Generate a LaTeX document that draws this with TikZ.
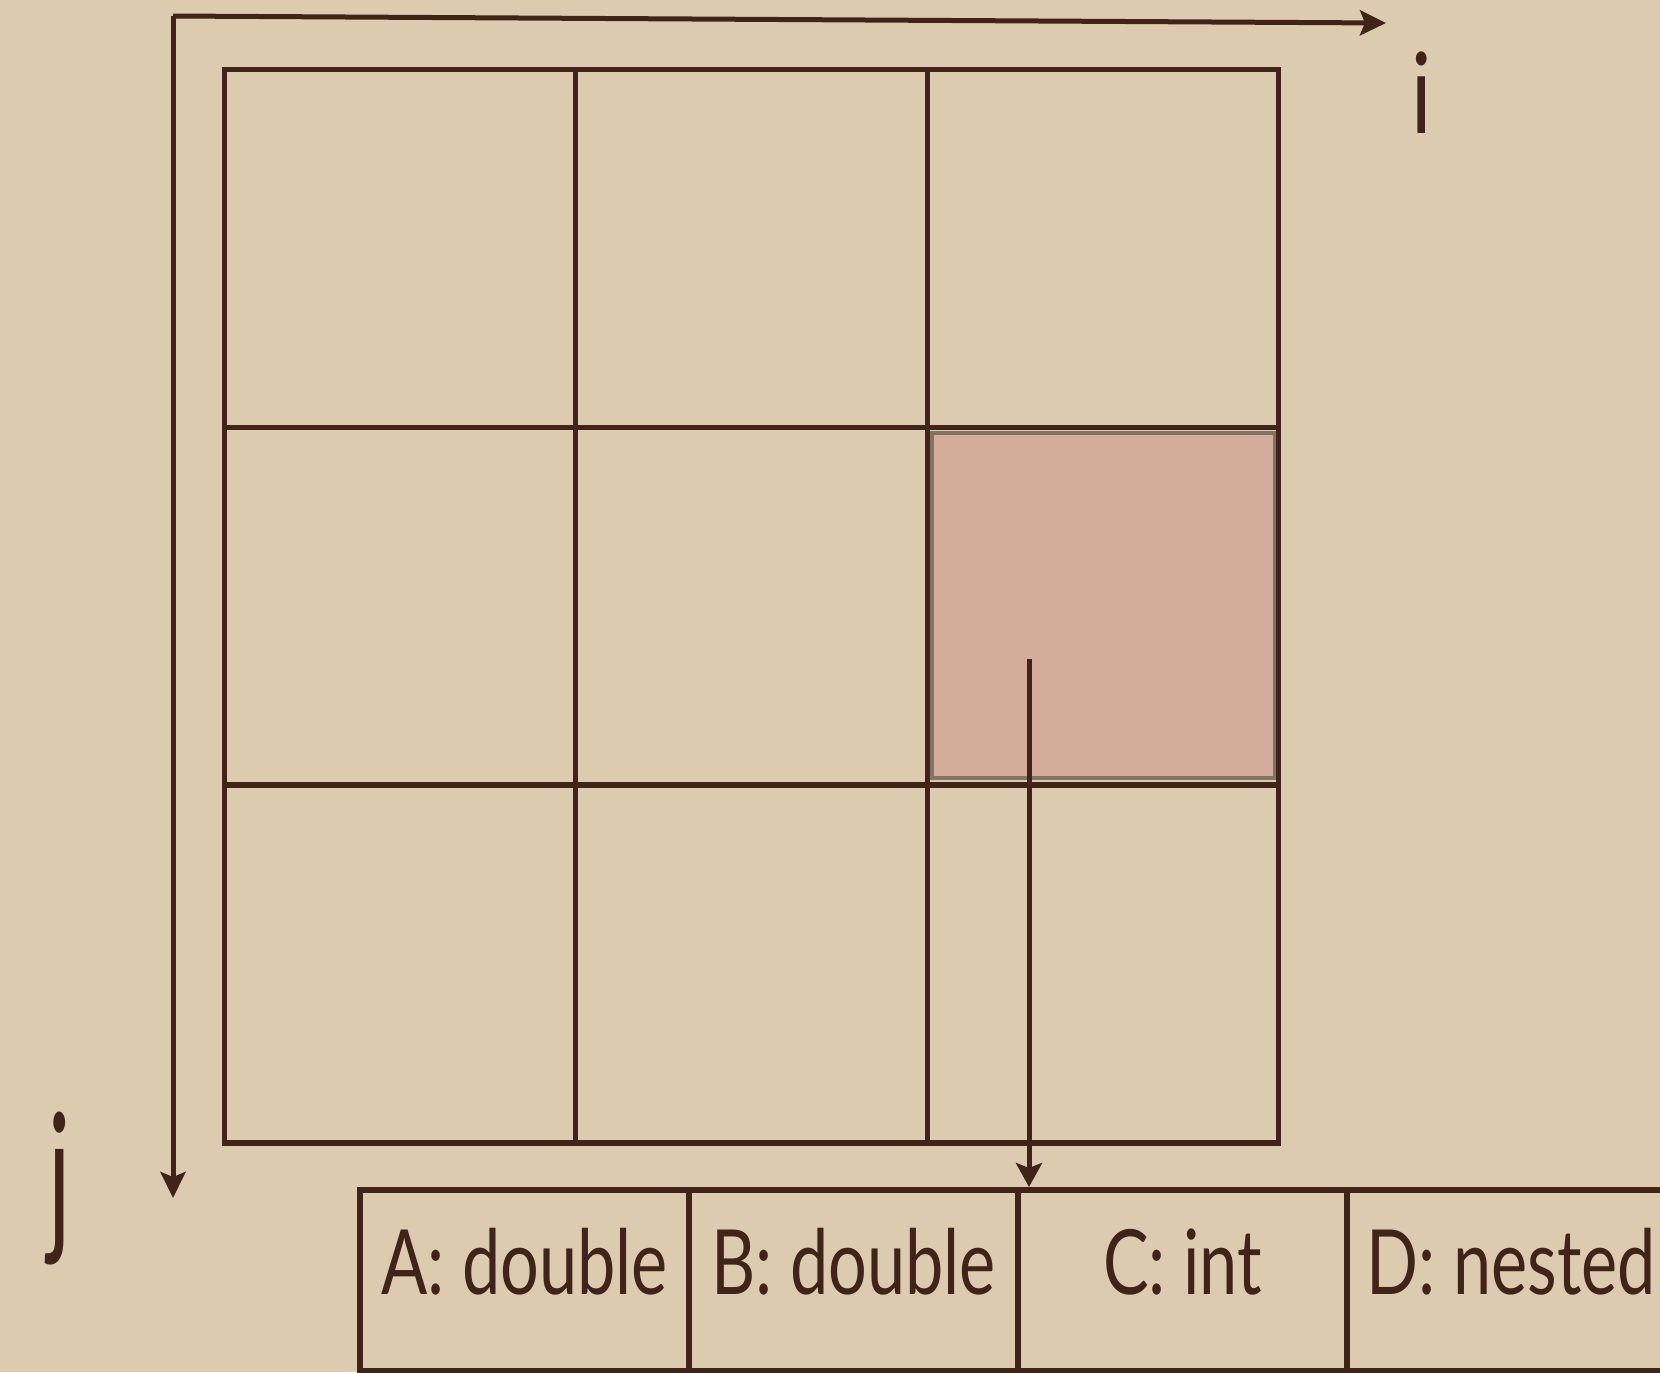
\documentclass[tikz,border=0pt]{standalone}
\usepackage{fontspec}
\usetikzlibrary{arrows.meta}
\newfontfamily\pap[FakeStretch=0.76]{Lato}
\definecolor{parch}{HTML}{DDCBAF}
\definecolor{ink}{HTML}{40241A}
\definecolor{rose}{HTML}{D3AD9A}
\definecolor{rosedge}{HTML}{807565}
\tikzset{
  axis/.style={draw=ink, line width=2.5pt, -{Stealth[length=13pt, width=12.5pt, inset=2.5pt]}},
  ptr/.style={draw=ink, line width=2.5pt, -{Stealth[length=12pt, width=13pt, inset=2.5pt]}, shorten >=1.5pt},
  gridcell/.style={draw=ink, line width=2.6pt, rectangle, inner sep=0pt, outer sep=0pt,
    minimum width=175.85pt, minimum height=179pt},
  hlcell/.style={draw=rosedge, fill=rose, line width=2pt, rectangle, inner sep=0pt,
    minimum width=171.5pt, minimum height=172.5pt},
  fieldcell/.style={draw=ink, line width=2.6pt, rectangle, inner sep=0pt, outer sep=0pt,
    minimum width=164.5pt, minimum height=90.5pt, text=ink,
    font=\pap\fontsize{45}{45}\selectfont, text height=40pt, text depth=26.5pt},
  axlbl/.style={text=ink, inner sep=0pt, font=\pap\fontsize{56}{56}\selectfont}
}
\begin{document}
\begin{tikzpicture}[x=0.5pt, y=-0.5pt]
\fill[parch] (0,0) rectangle (1660,1372);
\useasboundingbox (0,0) rectangle (1660,1372);
\clip (0,0) rectangle (1660,1372);

% highlighted cell background
\node[hlcell] (hl) at (1103.5,605.5) {};

% 3x3 grid
\node[gridcell] (c11) at (400,248.5) {};
\node[gridcell] (c12) at (751.5,248.5) {};
\node[gridcell] (c13) at (1103,248.5) {};
\node[gridcell] (c21) at (400,606.5) {};
\node[gridcell] (c22) at (751.5,606.5) {};
\node[gridcell] (c23) at (1103,606.5) {};
\node[gridcell] (c31) at (400,964) {};
\node[gridcell] (c32) at (751.5,964) {};
\node[gridcell] (c33) at (1103,964) {};

% axes
\coordinate (O) at (173,16);
\coordinate (iend) at (1386,23);
\coordinate (jend) at (173,1198);
\draw[axis] (O) -- (iend);
\draw[axis] (O) -- (jend);
\node[axlbl, anchor=base] (ilbl) at (1422,133) {i};
\node[axlbl] (jlbl) at (60,1188) {\scalebox{1.1}[1.5]{j}};

% record table
\node[fieldcell] (tA) at (524.5,1280.5) {A: double};
\node[fieldcell] (tB) at (853.5,1280.5) {B: double};
\node[fieldcell] (tC) at (1182.5,1280.5) {C: int};
\node[fieldcell] (tD) at (1511.5,1280.5) {D: nested};

% pointer
\coordinate (src) at (1029,659);
\draw[ptr] (src) -- (src |- tC.north);
\end{tikzpicture}
\end{document}
